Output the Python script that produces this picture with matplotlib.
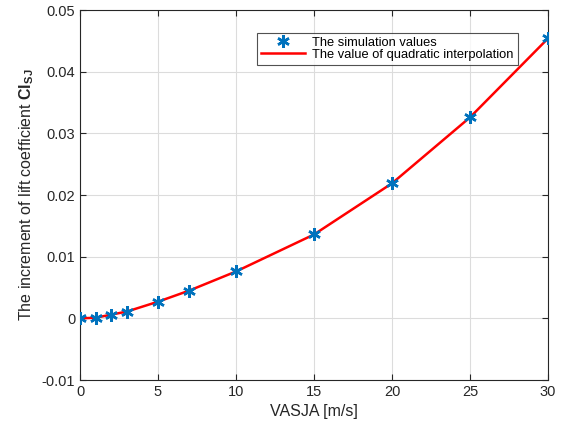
import matplotlib
matplotlib.use("Agg")
import matplotlib.pyplot as plt

plt.rcParams['font.family'] = ['Liberation Sans', 'DejaVu Sans']
plt.rcParams['mathtext.fontset'] = 'custom'
plt.rcParams['mathtext.rm'] = 'Liberation Sans'
plt.rcParams['mathtext.bf'] = 'Liberation Sans:bold'

speed = [0, 1, 2, 3, 5, 7, 10, 15, 20, 25, 30]
cl_sim = [0.0, 0.0001, 0.0006, 0.0011, 0.0027, 0.0045, 0.0076, 0.0136, 0.0219, 0.0326, 0.0454]
xticks = [0, 5, 10, 15, 20, 25, 30]
yticks = [-0.01, 0, 0.01, 0.02, 0.03, 0.04, 0.05]
yticklabels = ['-0.01', '0', '0.01', '0.02', '0.03', '0.04', '0.05']

fig = plt.figure(figsize=(5.65, 4.28), dpi=100)
ax = fig.add_axes([0.1416, 0.1121, 0.8284, 0.8645])

ax.plot(speed, cl_sim, color='#ff0000', lw=1.8, zorder=2,
        label='The value of quadratic interpolation')
ax.plot(speed, cl_sim, ls='none', marker=(6, 2, 0), ms=9, mew=1.8,
        color='#0072bd', zorder=3, label='The simulation values')

ax.set_xlim(0, 30)
ax.set_ylim(-0.01, 0.05)
ax.set_xticks(xticks)
ax.set_yticks(yticks)
ax.set_yticklabels(yticklabels)
ax.grid(True, color='#dcdcdc', lw=0.8)
ax.set_axisbelow(True)
ax.tick_params(direction='in', length=4, labelsize=10.5, colors='#262626',
               top=True, right=True, labelcolor='#262626')
for s in ax.spines.values():
    s.set_color('#262626')
    s.set_linewidth(0.8)

ax.set_xlabel('VASJA [m/s]', fontsize=11.5, color='#262626')
ax.set_ylabel(r'The increment of lift coefficient $\mathbf{Cl_{SJ}}$', fontsize=11.5, color='#262626')

h, l = ax.get_legend_handles_labels()
leg = ax.legend(h[::-1], l[::-1], loc='upper left', bbox_to_anchor=(0.379, 0.938),
                fontsize=9.3, frameon=True, fancybox=False, edgecolor='#262626',
                borderpad=0.3, labelspacing=0.0, handlelength=3.4, handletextpad=0.55,
                borderaxespad=0)
leg.get_frame().set_linewidth(0.8)

fig.savefig('out.png', dpi=100)
